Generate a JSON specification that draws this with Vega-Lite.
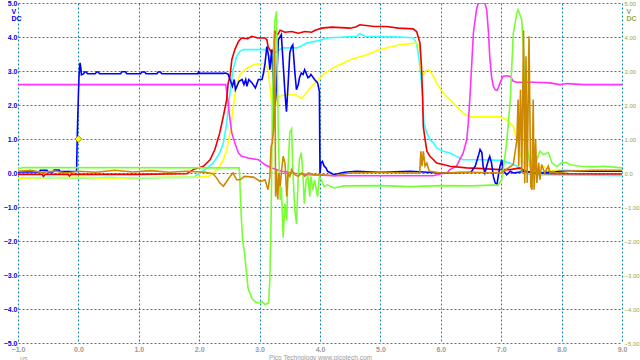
{
"$schema":"https://vega.github.io/schema/vega-lite/v6.json",
"width":604,"height":340,
"autosize":{"type":"none"},
"padding":{"left":18,"top":3,"right":18,"bottom":17},
"background":"white",
"config":{"view":{"stroke":null}},
"title":{"text":"µs","orient":"bottom","anchor":"start","frame":"group","fontSize":7,"font":"Liberation Sans","fontWeight":"normal","color":"#9a9a9a","offset":0,"dy":-6,"dx":2},
"datasets":{
"marker":[{"t":0,"v":1}],
"rightaxis":[{"v":-5},{"v":5}],
"traces":[
{"ch":"E","t":-1.0,"v":-0.15},{"ch":"E","t":-0.5,"v":-0.13},{"ch":"E","t":0.0,"v":-0.15},{"ch":"E","t":0.5,"v":-0.13},{"ch":"E","t":1.0,"v":-0.15},{"ch":"E","t":1.5,"v":-0.13},{"ch":"E","t":1.9,"v":-0.13},{"ch":"E","t":2.06,"v":0.05},{"ch":"E","t":2.23,"v":0.29},{"ch":"E","t":2.34,"v":0.59},{"ch":"E","t":2.4,"v":0.88},{"ch":"E","t":2.455,"v":1.47},{"ch":"E","t":2.51,"v":2.35},{"ch":"E","t":2.56,"v":3.04},{"ch":"E","t":2.62,"v":3.43},{"ch":"E","t":2.675,"v":3.58},{"ch":"E","t":2.73,"v":3.63},{"ch":"E","t":3.17,"v":3.63},{"ch":"E","t":3.22,"v":3.5},{"ch":"E","t":3.3,"v":3.6},{"ch":"E","t":3.39,"v":3.68},{"ch":"E","t":3.62,"v":3.68},{"ch":"E","t":3.78,"v":3.82},{"ch":"E","t":4.0,"v":3.9},{"ch":"E","t":4.11,"v":3.97},{"ch":"E","t":4.61,"v":4.02},{"ch":"E","t":4.66,"v":4.1},{"ch":"E","t":4.75,"v":4.02},{"ch":"E","t":5.32,"v":4.0},{"ch":"E","t":5.54,"v":3.98},{"ch":"E","t":5.6,"v":3.82},{"ch":"E","t":5.655,"v":3.14},{"ch":"E","t":5.7,"v":2.24},{"ch":"E","t":5.72,"v":1.47},{"ch":"E","t":5.77,"v":1.18},{"ch":"E","t":5.82,"v":0.98},{"ch":"E","t":5.88,"v":0.88},{"ch":"E","t":5.93,"v":0.74},{"ch":"E","t":6.04,"v":0.64},{"ch":"E","t":6.15,"v":0.59},{"ch":"E","t":6.26,"v":0.49},{"ch":"E","t":6.37,"v":0.39},{"ch":"E","t":6.7,"v":0.39},{"ch":"E","t":6.98,"v":0.37},{"ch":"E","t":7.15,"v":0.29},{"ch":"E","t":7.26,"v":0.2},{"ch":"E","t":7.31,"v":0.1},{"ch":"E","t":7.45,"v":-0.03},{"ch":"E","t":7.64,"v":-0.05},{"ch":"E","t":8.64,"v":-0.07},{"ch":"E","t":9.0,"v":-0.08},
{"ch":"D","t":-1.0,"v":-0.15},{"ch":"D","t":-0.5,"v":-0.14},{"ch":"D","t":0.0,"v":-0.13},{"ch":"D","t":0.5,"v":-0.15},{"ch":"D","t":1.0,"v":-0.14},{"ch":"D","t":1.5,"v":-0.13},{"ch":"D","t":2.0,"v":-0.12},{"ch":"D","t":2.15,"v":-0.1},{"ch":"D","t":2.23,"v":0.0},{"ch":"D","t":2.34,"v":0.2},{"ch":"D","t":2.4,"v":0.39},{"ch":"D","t":2.455,"v":0.69},{"ch":"D","t":2.51,"v":1.18},{"ch":"D","t":2.56,"v":1.9},{"ch":"D","t":2.61,"v":2.5},{"ch":"D","t":2.675,"v":2.9},{"ch":"D","t":2.79,"v":3.09},{"ch":"D","t":2.92,"v":3.2},{"ch":"D","t":3.09,"v":3.22},{"ch":"D","t":3.14,"v":3.04},{"ch":"D","t":3.2,"v":2.06},{"ch":"D","t":3.22,"v":1.2},{"ch":"D","t":3.24,"v":1.5},{"ch":"D","t":3.28,"v":2.3},{"ch":"D","t":3.31,"v":2.25},{"ch":"D","t":3.42,"v":2.3},{"ch":"D","t":3.59,"v":2.3},{"ch":"D","t":3.64,"v":2.25},{"ch":"D","t":3.7,"v":2.2},{"ch":"D","t":3.75,"v":2.3},{"ch":"D","t":3.86,"v":2.55},{"ch":"D","t":3.97,"v":2.74},{"ch":"D","t":4.08,"v":2.94},{"ch":"D","t":4.25,"v":3.12},{"ch":"D","t":4.5,"v":3.33},{"ch":"D","t":4.77,"v":3.48},{"ch":"D","t":4.99,"v":3.63},{"ch":"D","t":5.32,"v":3.77},{"ch":"D","t":5.6,"v":3.82},{"ch":"D","t":5.64,"v":3.78},{"ch":"D","t":5.68,"v":2.98},{"ch":"D","t":5.71,"v":2.89},{"ch":"D","t":5.77,"v":3.04},{"ch":"D","t":5.82,"v":3.0},{"ch":"D","t":5.88,"v":2.84},{"ch":"D","t":5.93,"v":2.65},{"ch":"D","t":6.04,"v":2.35},{"ch":"D","t":6.15,"v":2.16},{"ch":"D","t":6.26,"v":1.96},{"ch":"D","t":6.37,"v":1.76},{"ch":"D","t":6.48,"v":1.65},{"ch":"D","t":6.98,"v":1.65},{"ch":"D","t":7.09,"v":1.57},{"ch":"D","t":7.2,"v":1.37},{"ch":"D","t":7.26,"v":0.98},{"ch":"D","t":7.31,"v":0.59},{"ch":"D","t":7.37,"v":0.29},{"ch":"D","t":7.43,"v":0.2},{"ch":"D","t":7.5,"v":0.3},{"ch":"D","t":7.55,"v":0.1},{"ch":"D","t":7.7,"v":0.2},{"ch":"D","t":7.8,"v":0.05},{"ch":"D","t":8.0,"v":0.1},{"ch":"D","t":8.5,"v":0.05},{"ch":"D","t":9.0,"v":0.05},
{"ch":"F","t":-1.0,"v":2.6},{"ch":"F","t":2.44,"v":2.6},{"ch":"F","t":2.48,"v":2.06},{"ch":"F","t":2.51,"v":1.57},{"ch":"F","t":2.54,"v":1.18},{"ch":"F","t":2.59,"v":0.88},{"ch":"F","t":2.65,"v":0.59},{"ch":"F","t":2.7,"v":0.49},{"ch":"F","t":2.81,"v":0.44},{"ch":"F","t":2.98,"v":0.39},{"ch":"F","t":3.09,"v":0.24},{"ch":"F","t":3.2,"v":0.15},{"ch":"F","t":3.37,"v":0.05},{"ch":"F","t":3.53,"v":0.0},{"ch":"F","t":3.81,"v":-0.05},{"ch":"F","t":4.25,"v":-0.08},{"ch":"F","t":5.32,"v":-0.08},{"ch":"F","t":5.88,"v":-0.08},{"ch":"F","t":6.0,"v":-0.02},{"ch":"F","t":6.1,"v":0.0},{"ch":"F","t":6.15,"v":0.1},{"ch":"F","t":6.26,"v":0.2},{"ch":"F","t":6.37,"v":0.59},{"ch":"F","t":6.43,"v":0.98},{"ch":"F","t":6.455,"v":1.47},{"ch":"F","t":6.48,"v":2.16},{"ch":"F","t":6.51,"v":3.14},{"ch":"F","t":6.54,"v":4.12},{"ch":"F","t":6.59,"v":4.8},{"ch":"F","t":6.62,"v":5.0},{"ch":"F","t":6.73,"v":5.0},{"ch":"F","t":6.76,"v":4.8},{"ch":"F","t":6.79,"v":4.12},{"ch":"F","t":6.81,"v":3.43},{"ch":"F","t":6.84,"v":2.84},{"ch":"F","t":6.87,"v":2.55},{"ch":"F","t":6.9,"v":2.45},{"ch":"F","t":6.93,"v":2.43},{"ch":"F","t":6.95,"v":2.5},{"ch":"F","t":6.98,"v":2.65},{"ch":"F","t":7.03,"v":2.84},{"ch":"F","t":7.09,"v":2.86},{"ch":"F","t":7.15,"v":2.84},{"ch":"F","t":7.2,"v":2.7},{"ch":"F","t":7.26,"v":2.67},{"ch":"F","t":7.53,"v":2.67},{"ch":"F","t":7.81,"v":2.65},{"ch":"F","t":7.97,"v":2.6},{"ch":"F","t":8.1,"v":2.63},{"ch":"F","t":8.36,"v":2.6},{"ch":"F","t":9.0,"v":2.6},
{"ch":"B","t":-1.0,"v":-0.04},{"ch":"B","t":-0.6,"v":-0.04},{"ch":"B","t":-0.58,"v":-0.1},{"ch":"B","t":-0.55,"v":-0.04},{"ch":"B","t":-0.17,"v":-0.04},{"ch":"B","t":-0.15,"v":-0.09},{"ch":"B","t":-0.12,"v":-0.04},{"ch":"B","t":1.0,"v":-0.04},{"ch":"B","t":1.5,"v":-0.03},{"ch":"B","t":1.8,"v":-0.02},{"ch":"B","t":1.9,"v":0.1},{"ch":"B","t":2.07,"v":0.2},{"ch":"B","t":2.18,"v":0.39},{"ch":"B","t":2.26,"v":0.69},{"ch":"B","t":2.34,"v":1.18},{"ch":"B","t":2.4,"v":1.67},{"ch":"B","t":2.455,"v":2.16},{"ch":"B","t":2.48,"v":2.65},{"ch":"B","t":2.51,"v":2.84},{"ch":"B","t":2.54,"v":3.33},{"ch":"B","t":2.59,"v":3.63},{"ch":"B","t":2.65,"v":3.87},{"ch":"B","t":2.7,"v":3.97},{"ch":"B","t":2.8,"v":3.95},{"ch":"B","t":2.87,"v":4.02},{"ch":"B","t":2.97,"v":3.97},{"ch":"B","t":3.09,"v":3.97},{"ch":"B","t":3.12,"v":3.92},{"ch":"B","t":3.14,"v":3.72},{"ch":"B","t":3.2,"v":3.53},{"ch":"B","t":3.23,"v":3.63},{"ch":"B","t":3.255,"v":4.16},{"ch":"B","t":3.3,"v":4.07},{"ch":"B","t":3.34,"v":4.2},{"ch":"B","t":3.42,"v":4.14},{"ch":"B","t":3.53,"v":4.16},{"ch":"B","t":3.64,"v":4.11},{"ch":"B","t":3.75,"v":4.16},{"ch":"B","t":3.86,"v":4.14},{"ch":"B","t":3.92,"v":4.2},{"ch":"B","t":4.03,"v":4.26},{"ch":"B","t":4.19,"v":4.29},{"ch":"B","t":4.5,"v":4.26},{"ch":"B","t":4.6,"v":4.3},{"ch":"B","t":4.66,"v":4.36},{"ch":"B","t":4.9,"v":4.31},{"ch":"B","t":5.1,"v":4.31},{"ch":"B","t":5.3,"v":4.26},{"ch":"B","t":5.54,"v":4.24},{"ch":"B","t":5.6,"v":4.16},{"ch":"B","t":5.655,"v":3.82},{"ch":"B","t":5.68,"v":3.14},{"ch":"B","t":5.7,"v":2.16},{"ch":"B","t":5.71,"v":1.37},{"ch":"B","t":5.74,"v":0.98},{"ch":"B","t":5.77,"v":0.64},{"ch":"B","t":5.82,"v":0.49},{"ch":"B","t":5.88,"v":0.39},{"ch":"B","t":5.93,"v":0.29},{"ch":"B","t":6.04,"v":0.25},{"ch":"B","t":6.15,"v":0.2},{"ch":"B","t":6.43,"v":0.15},{"ch":"B","t":6.7,"v":0.13},{"ch":"B","t":6.98,"v":0.1},{"ch":"B","t":7.15,"v":0.1},{"ch":"B","t":7.31,"v":0.15},{"ch":"B","t":7.4,"v":0.05},{"ch":"B","t":7.53,"v":0.0},{"ch":"B","t":7.81,"v":-0.02},{"ch":"B","t":8.64,"v":-0.03},{"ch":"B","t":9.0,"v":-0.03},
{"ch":"A","t":-1.0,"v":0.03},{"ch":"A","t":-0.65,"v":0.03},{"ch":"A","t":-0.63,"v":0.08},{"ch":"A","t":-0.52,"v":0.08},{"ch":"A","t":-0.5,"v":0.03},{"ch":"A","t":-0.42,"v":0.03},{"ch":"A","t":-0.4,"v":0.09},{"ch":"A","t":-0.32,"v":0.09},{"ch":"A","t":-0.3,"v":0.04},{"ch":"A","t":-0.03,"v":0.05},{"ch":"A","t":-0.02,"v":1.0},{"ch":"A","t":0.0,"v":2.3},{"ch":"A","t":0.01,"v":2.84},{"ch":"A","t":0.027,"v":3.24},{"ch":"A","t":0.04,"v":3.1},{"ch":"A","t":0.05,"v":2.89},{"ch":"A","t":0.09,"v":2.92},{"ch":"A","t":0.1,"v":2.97},{"ch":"A","t":0.13,"v":2.97},{"ch":"A","t":0.15,"v":2.92},{"ch":"A","t":0.28,"v":2.92},{"ch":"A","t":0.3,"v":2.97},{"ch":"A","t":0.33,"v":2.97},{"ch":"A","t":0.35,"v":2.92},{"ch":"A","t":0.7,"v":2.92},{"ch":"A","t":0.72,"v":2.98},{"ch":"A","t":0.78,"v":2.98},{"ch":"A","t":0.8,"v":2.92},{"ch":"A","t":1.03,"v":2.92},{"ch":"A","t":1.05,"v":2.97},{"ch":"A","t":1.1,"v":2.97},{"ch":"A","t":1.12,"v":2.92},{"ch":"A","t":1.3,"v":2.92},{"ch":"A","t":1.32,"v":2.97},{"ch":"A","t":1.36,"v":2.97},{"ch":"A","t":1.38,"v":2.92},{"ch":"A","t":1.98,"v":2.92},{"ch":"A","t":1.99,"v":3.0},{"ch":"A","t":2.0,"v":2.93},{"ch":"A","t":2.4,"v":2.93},{"ch":"A","t":2.44,"v":2.94},{"ch":"A","t":2.48,"v":2.9},{"ch":"A","t":2.52,"v":2.7},{"ch":"A","t":2.55,"v":2.55},{"ch":"A","t":2.58,"v":2.75},{"ch":"A","t":2.6,"v":2.45},{"ch":"A","t":2.66,"v":2.7},{"ch":"A","t":2.71,"v":2.75},{"ch":"A","t":2.74,"v":2.6},{"ch":"A","t":2.77,"v":2.75},{"ch":"A","t":2.79,"v":2.55},{"ch":"A","t":2.82,"v":2.75},{"ch":"A","t":2.875,"v":2.65},{"ch":"A","t":2.93,"v":2.5},{"ch":"A","t":2.98,"v":2.75},{"ch":"A","t":3.04,"v":2.75},{"ch":"A","t":3.065,"v":2.94},{"ch":"A","t":3.09,"v":3.23},{"ch":"A","t":3.12,"v":3.72},{"ch":"A","t":3.15,"v":3.43},{"ch":"A","t":3.17,"v":3.04},{"ch":"A","t":3.2,"v":3.63},{"ch":"A","t":3.23,"v":2.55},{"ch":"A","t":3.255,"v":1.96},{"ch":"A","t":3.28,"v":2.55},{"ch":"A","t":3.31,"v":3.92},{"ch":"A","t":3.36,"v":4.07},{"ch":"A","t":3.42,"v":2.35},{"ch":"A","t":3.445,"v":1.8},{"ch":"A","t":3.47,"v":2.55},{"ch":"A","t":3.5,"v":3.53},{"ch":"A","t":3.53,"v":3.72},{"ch":"A","t":3.55,"v":3.77},{"ch":"A","t":3.58,"v":3.04},{"ch":"A","t":3.61,"v":2.45},{"ch":"A","t":3.64,"v":2.6},{"ch":"A","t":3.66,"v":2.8},{"ch":"A","t":3.69,"v":2.94},{"ch":"A","t":3.72,"v":2.9},{"ch":"A","t":3.745,"v":3.04},{"ch":"A","t":3.77,"v":2.94},{"ch":"A","t":3.8,"v":2.8},{"ch":"A","t":3.83,"v":2.84},{"ch":"A","t":3.85,"v":2.9},{"ch":"A","t":3.91,"v":2.75},{"ch":"A","t":3.96,"v":2.65},{"ch":"A","t":3.99,"v":2.4},{"ch":"A","t":4.0,"v":0.0},{"ch":"A","t":4.016,"v":0.3},{"ch":"A","t":4.04,"v":0.34},{"ch":"A","t":4.07,"v":0.2},{"ch":"A","t":4.1,"v":0.15},{"ch":"A","t":4.125,"v":0.05},{"ch":"A","t":4.18,"v":0.0},{"ch":"A","t":4.23,"v":-0.05},{"ch":"A","t":4.4,"v":0.02},{"ch":"A","t":4.6,"v":0.05},{"ch":"A","t":5.0,"v":0.02},{"ch":"A","t":5.5,"v":0.05},{"ch":"A","t":6.0,"v":0.0},{"ch":"A","t":6.5,"v":0.02},{"ch":"A","t":6.57,"v":0.2},{"ch":"A","t":6.62,"v":0.49},{"ch":"A","t":6.65,"v":0.69},{"ch":"A","t":6.68,"v":0.6},{"ch":"A","t":6.7,"v":0.2},{"ch":"A","t":6.73,"v":0.0},{"ch":"A","t":6.76,"v":0.2},{"ch":"A","t":6.79,"v":0.39},{"ch":"A","t":6.81,"v":0.49},{"ch":"A","t":6.84,"v":0.29},{"ch":"A","t":6.87,"v":-0.1},{"ch":"A","t":6.9,"v":-0.29},{"ch":"A","t":6.93,"v":-0.34},{"ch":"A","t":6.95,"v":-0.1},{"ch":"A","t":6.98,"v":0.2},{"ch":"A","t":7.01,"v":0.39},{"ch":"A","t":7.03,"v":0.1},{"ch":"A","t":7.09,"v":-0.05},{"ch":"A","t":7.15,"v":0.05},{"ch":"A","t":7.2,"v":0.0},{"ch":"A","t":7.4,"v":0.05},{"ch":"A","t":7.6,"v":0.0},{"ch":"A","t":8.0,"v":0.05},{"ch":"A","t":8.5,"v":0.05},{"ch":"A","t":9.0,"v":0.05},
{"ch":"C","t":-1.0,"v":0.13},{"ch":"C","t":-0.9,"v":0.16},{"ch":"C","t":2.66,"v":0.15},{"ch":"C","t":2.67,"v":0.0},{"ch":"C","t":2.68,"v":-0.6},{"ch":"C","t":2.7,"v":-1.4},{"ch":"C","t":2.72,"v":-2.0},{"ch":"C","t":2.75,"v":-2.35},{"ch":"C","t":2.78,"v":-2.9},{"ch":"C","t":2.81,"v":-3.4},{"ch":"C","t":2.875,"v":-3.7},{"ch":"C","t":2.94,"v":-3.8},{"ch":"C","t":2.98,"v":-3.82},{"ch":"C","t":3.04,"v":-3.78},{"ch":"C","t":3.09,"v":-3.87},{"ch":"C","t":3.15,"v":-3.82},{"ch":"C","t":3.17,"v":-3.1},{"ch":"C","t":3.19,"v":-1.4},{"ch":"C","t":3.21,"v":1.6},{"ch":"C","t":3.23,"v":3.5},{"ch":"C","t":3.255,"v":4.5},{"ch":"C","t":3.28,"v":4.75},{"ch":"C","t":3.31,"v":1.1},{"ch":"C","t":3.34,"v":-0.8},{"ch":"C","t":3.36,"v":-0.4},{"ch":"C","t":3.39,"v":-1.9},{"ch":"C","t":3.42,"v":-0.9},{"ch":"C","t":3.45,"v":-1.4},{"ch":"C","t":3.47,"v":0.1},{"ch":"C","t":3.5,"v":1.2},{"ch":"C","t":3.53,"v":1.3},{"ch":"C","t":3.55,"v":0.1},{"ch":"C","t":3.58,"v":-1.0},{"ch":"C","t":3.61,"v":-1.5},{"ch":"C","t":3.64,"v":-0.1},{"ch":"C","t":3.66,"v":0.4},{"ch":"C","t":3.69,"v":0.6},{"ch":"C","t":3.72,"v":-0.1},{"ch":"C","t":3.74,"v":-0.9},{"ch":"C","t":3.77,"v":-0.2},{"ch":"C","t":3.8,"v":-0.1},{"ch":"C","t":3.83,"v":-0.7},{"ch":"C","t":3.85,"v":-0.1},{"ch":"C","t":3.88,"v":-0.5},{"ch":"C","t":3.91,"v":-0.2},{"ch":"C","t":3.96,"v":-0.7},{"ch":"C","t":3.99,"v":-0.1},{"ch":"C","t":4.02,"v":-0.2},{"ch":"C","t":4.07,"v":-0.4},{"ch":"C","t":4.125,"v":-0.35},{"ch":"C","t":4.18,"v":-0.4},{"ch":"C","t":4.23,"v":-0.44},{"ch":"C","t":4.4,"v":-0.38},{"ch":"C","t":5.0,"v":-0.37},{"ch":"C","t":5.5,"v":-0.4},{"ch":"C","t":6.0,"v":-0.37},{"ch":"C","t":6.5,"v":-0.38},{"ch":"C","t":6.95,"v":-0.35},{"ch":"C","t":7.01,"v":-0.2},{"ch":"C","t":7.09,"v":0.88},{"ch":"C","t":7.15,"v":2.15},{"ch":"C","t":7.2,"v":4.1},{"ch":"C","t":7.26,"v":4.7},{"ch":"C","t":7.28,"v":4.8},{"ch":"C","t":7.34,"v":4.5},{"ch":"C","t":7.37,"v":3.6},{"ch":"C","t":7.39,"v":2.15},{"ch":"C","t":7.42,"v":0.88},{"ch":"C","t":7.48,"v":0.19},{"ch":"C","t":7.53,"v":-0.2},{"ch":"C","t":7.59,"v":0.39},{"ch":"C","t":7.64,"v":0.64},{"ch":"C","t":7.7,"v":0.54},{"ch":"C","t":7.78,"v":0.6},{"ch":"C","t":7.84,"v":0.3},{"ch":"C","t":7.92,"v":0.19},{"ch":"C","t":8.0,"v":0.3},{"ch":"C","t":8.08,"v":0.31},{"ch":"C","t":8.14,"v":0.24},{"ch":"C","t":8.3,"v":0.2},{"ch":"C","t":8.5,"v":0.18},{"ch":"C","t":8.7,"v":0.2},{"ch":"C","t":9.0,"v":0.15},
{"ch":"G","t":-1.0,"v":0.05},{"ch":"G","t":-0.8,"v":0.08},{"ch":"G","t":-0.6,"v":0.02},{"ch":"G","t":-0.4,"v":0.06},{"ch":"G","t":-0.2,"v":0.0},{"ch":"G","t":0.0,"v":0.05},{"ch":"G","t":0.3,"v":0.02},{"ch":"G","t":0.6,"v":0.08},{"ch":"G","t":0.9,"v":0.03},{"ch":"G","t":1.2,"v":0.07},{"ch":"G","t":1.5,"v":0.02},{"ch":"G","t":1.8,"v":0.05},{"ch":"G","t":2.1,"v":0.02},{"ch":"G","t":2.23,"v":-0.02},{"ch":"G","t":2.29,"v":-0.15},{"ch":"G","t":2.34,"v":-0.29},{"ch":"G","t":2.4,"v":-0.39},{"ch":"G","t":2.455,"v":-0.25},{"ch":"G","t":2.51,"v":-0.1},{"ch":"G","t":2.56,"v":0.0},{"ch":"G","t":2.62,"v":-0.2},{"ch":"G","t":2.675,"v":-0.2},{"ch":"G","t":2.75,"v":-0.1},{"ch":"G","t":2.9,"v":-0.12},{"ch":"G","t":3.01,"v":-0.25},{"ch":"G","t":3.09,"v":-0.2},{"ch":"G","t":3.14,"v":-0.49},{"ch":"G","t":3.17,"v":-0.1},{"ch":"G","t":3.19,"v":0.78},{"ch":"G","t":3.21,"v":0.88},{"ch":"G","t":3.23,"v":1.27},{"ch":"G","t":3.24,"v":2.06},{"ch":"G","t":3.25,"v":4.2},{"ch":"G","t":3.265,"v":-0.69},{"ch":"G","t":3.28,"v":0.1},{"ch":"G","t":3.3,"v":-0.78},{"ch":"G","t":3.32,"v":0.0},{"ch":"G","t":3.34,"v":-0.39},{"ch":"G","t":3.36,"v":0.0},{"ch":"G","t":3.39,"v":0.49},{"ch":"G","t":3.42,"v":0.3},{"ch":"G","t":3.43,"v":0.0},{"ch":"G","t":3.45,"v":-0.69},{"ch":"G","t":3.47,"v":0.0},{"ch":"G","t":3.5,"v":-0.1},{"ch":"G","t":3.53,"v":0.1},{"ch":"G","t":3.58,"v":-0.05},{"ch":"G","t":3.64,"v":-0.1},{"ch":"G","t":3.7,"v":0.0},{"ch":"G","t":3.75,"v":-0.1},{"ch":"G","t":3.81,"v":0.0},{"ch":"G","t":3.91,"v":-0.05},{"ch":"G","t":4.03,"v":-0.05},{"ch":"G","t":4.25,"v":-0.08},{"ch":"G","t":4.5,"v":0.0},{"ch":"G","t":5.0,"v":0.02},{"ch":"G","t":5.5,"v":0.0},{"ch":"G","t":5.65,"v":0.0},{"ch":"G","t":5.67,"v":0.64},{"ch":"G","t":5.69,"v":0.2},{"ch":"G","t":5.71,"v":0.64},{"ch":"G","t":5.74,"v":0.2},{"ch":"G","t":5.77,"v":0.29},{"ch":"G","t":5.8,"v":0.1},{"ch":"G","t":5.82,"v":0.05},{"ch":"G","t":6.0,"v":0.0},{"ch":"G","t":6.5,"v":0.02},{"ch":"G","t":7.0,"v":0.0},{"ch":"G","t":7.15,"v":0.19},{"ch":"G","t":7.2,"v":0.25},{"ch":"G","t":7.26,"v":0.98},{"ch":"G","t":7.28,"v":2.16},{"ch":"G","t":7.29,"v":0.2},{"ch":"G","t":7.32,"v":2.45},{"ch":"G","t":7.34,"v":0.0},{"ch":"G","t":7.37,"v":4.2},{"ch":"G","t":7.39,"v":-0.3},{"ch":"G","t":7.41,"v":3.43},{"ch":"G","t":7.43,"v":-0.29},{"ch":"G","t":7.46,"v":4.02},{"ch":"G","t":7.49,"v":-0.39},{"ch":"G","t":7.51,"v":-0.49},{"ch":"G","t":7.53,"v":2.16},{"ch":"G","t":7.545,"v":-0.49},{"ch":"G","t":7.57,"v":0.98},{"ch":"G","t":7.59,"v":-0.29},{"ch":"G","t":7.62,"v":0.3},{"ch":"G","t":7.64,"v":-0.2},{"ch":"G","t":7.67,"v":0.25},{"ch":"G","t":7.72,"v":0.0},{"ch":"G","t":7.78,"v":0.2},{"ch":"G","t":7.81,"v":0.0},{"ch":"G","t":7.86,"v":0.05},{"ch":"G","t":7.92,"v":0.0},{"ch":"G","t":8.14,"v":0.05},{"ch":"G","t":8.5,"v":0.08},{"ch":"G","t":9.0,"v":0.08}
]},
"layer":[
{"data":{"name":"traces"},
 "mark":{"type":"line","strokeWidth":1.6,"clip":true},
 "encoding":{
  "x":{"field":"t","type":"quantitative","scale":{"domain":[-1,9],"nice":false,"zero":false},
   "axis":{"values":[-1,0,1,2,3,4,5,6,7,8,9],"format":".1f","labelColor":"#9a9a9a","labelFont":"Liberation Sans","labelFontSize":7,"labelFontWeight":"bold","labelPadding":2,"labelFlush":false,"ticks":false,"domain":false,"grid":true,"gridColor":"#1287b5","gridDash":[2,2],"gridWidth":1,
   "title":"Pico Technology   www.picotech.com","titleFont":"Liberation Sans","titleFontSize":6.5,"titleFontWeight":"normal","titleColor":"#9a9a9a","titleY":14,"titleBaseline":"middle"}},
  "y":{"field":"v","type":"quantitative","scale":{"domain":[-5,5],"nice":false,"zero":false},
   "axis":{"values":[-5,-4,-3,-2,-1,0,1,2,3,4,5],"format":".1f","labelColor":"#0000ee","labelFont":"Liberation Sans","labelFontSize":7,"labelFontWeight":"bold","labelPadding":1,"labelFlush":false,"labelOverlap":false,"ticks":false,"domain":false,"grid":true,"gridColor":"#1287b5","gridDash":[2,2],"gridWidth":1,
   "title":["V","DC"],"titleAngle":0,"titleX":-7,"titleY":4,"titleAlign":"left","titleBaseline":"top","titleFont":"Liberation Sans","titleFontSize":7,"titleFontWeight":"bold","titleColor":"#0000ee","titleLineHeight":7}},
  "color":{"field":"ch","type":"nominal","legend":null,"scale":{"domain":["A","B","C","D","E","F","G"],"range":["#0000ff","#ee0000","#77ff33","#ffff00","#33ffff","#ff33ff","#cc8800"]}}
 }},
{"data":{"name":"marker"},
 "mark":{"type":"point","shape":"diamond","filled":true,"fill":"#ffff00","stroke":"#9a9a00","strokeWidth":1,"opacity":1,"size":45},
 "encoding":{"x":{"field":"t","type":"quantitative"},"y":{"field":"v","type":"quantitative","axis":null}}},
{"data":{"name":"rightaxis"},
 "mark":{"type":"point","opacity":0},
 "encoding":{"y":{"field":"v","type":"quantitative",
  "axis":{"orient":"right","values":[-5,-4,-3,-2,-1,0,1,2,3,4,5],"labelExpr":"datum.value == 0 ? '0.0' : format(datum.value, '.2f')","labelColor":"#99a640","labelFont":"Liberation Sans","labelFontSize":6,"labelPadding":2,"labelFlush":false,"labelOverlap":false,"ticks":false,"domain":false,"grid":false,
  "title":["V","DC"],"titleAngle":0,"titleX":4,"titleY":4,"titleAlign":"left","titleBaseline":"top","titleFont":"Liberation Sans","titleFontSize":7,"titleFontWeight":"bold","titleColor":"#99a640","titleLineHeight":7}}}}
],
"resolve":{"axis":{"y":"independent"}}
}
